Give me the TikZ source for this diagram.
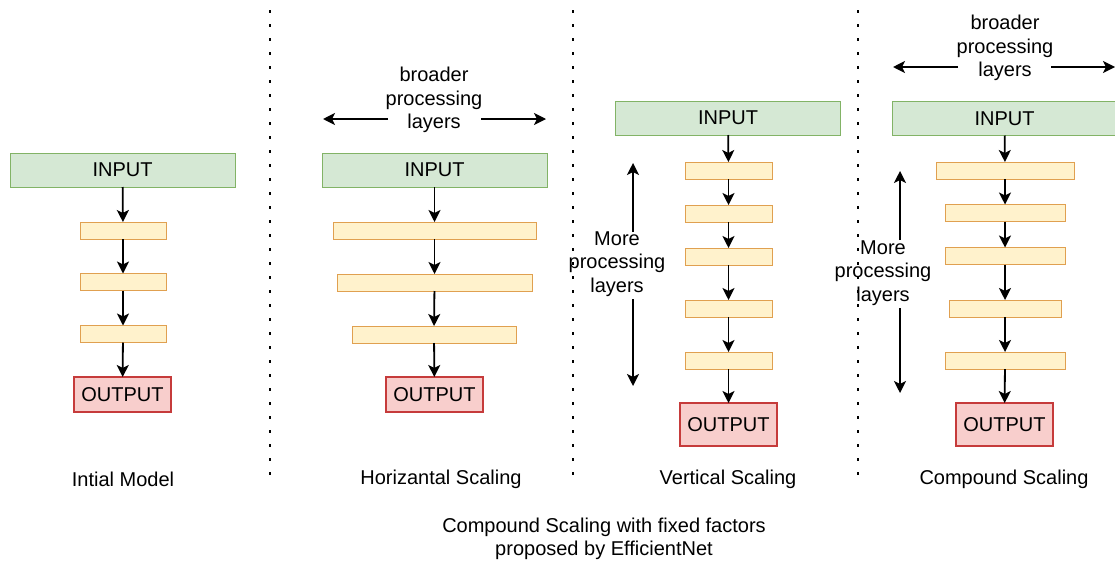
\documentclass[tikz,border=0pt]{standalone}
\usepackage{fontspec}
\setmainfont{Liberation Sans}
\usetikzlibrary{arrows.meta}
\definecolor{inFill}{HTML}{D5E8D4}
\definecolor{inStroke}{HTML}{82B366}
\definecolor{lyFill}{HTML}{FFF2CC}
\definecolor{lyStroke}{HTML}{E0A050}
\definecolor{outFill}{HTML}{F8CECC}
\definecolor{outStroke}{HTML}{C63B3B}
\tikzset{
  base/.style={font=\fontsize{20}{23.5}\selectfont, inner sep=0pt, outer sep=0pt, text=black},
  inbox/.style={base, draw=inStroke, fill=inFill, line width=1pt, minimum height=34pt, minimum width=225pt},
  layer/.style={base, draw=lyStroke, fill=lyFill, line width=1pt, minimum height=17pt},
  outbox/.style={base, draw=outStroke, fill=outFill, line width=1.2pt, minimum width=97pt},
  flow/.style={line width=1.8pt, -{Stealth[length=12pt,width=12pt,inset=3pt]}},
  lbl/.style={base, align=center},
  dotline/.style={line width=2.8pt, dash pattern=on 2.8pt off 11.2pt},
}
\begin{document}
\begin{tikzpicture}[x=1pt,y=-1pt]
\useasboundingbox (0,0) rectangle (1115,565);
\fill[white] (0,0) rectangle (1115,565);

% dotted separators
\draw[dotline] (270,10) -- (270,482);
\draw[dotline] (573,10) -- (573,482);
\draw[dotline] (858,10) -- (858,482);

% ---------- Initial model ----------
\node[inbox] (ain) at (122.5,170) {INPUT};
\node[layer, minimum width=86pt] (a1) at (123,230.5) {};
\node[layer, minimum width=86pt] (a2) at (123,282) {};
\node[layer, minimum width=86pt] (a3) at (123,334) {};
\node[outbox, minimum height=35pt] (aout) at (122.5,394.5) {OUTPUT};
\draw[flow] (ain) -- (a1);
\draw[flow] (a1) -- (a2);
\draw[flow] (a2) -- (a3);
\draw[flow] (a3) -- (aout);
\node[lbl] (alab) at (123,479) {Intial Model};

% ---------- Horizontal scaling ----------
\node[inbox] (bin) at (434.5,170) {INPUT};
\node[layer, minimum width=203pt] (b1) at (434.5,230.5) {};
\node[layer, minimum width=195pt] (b2) at (434.5,282.5) {};
\node[layer, minimum width=164pt] (b3) at (434,334.5) {};
\node[outbox, minimum height=35pt] (bout) at (434.5,394.5) {OUTPUT};
\draw[flow] (bin) -- (b1);
\draw[flow] (b1) -- (b2);
\draw[flow] (b2) -- (b3);
\draw[flow] (b3) -- (bout);
\node[lbl] (btxt) at (434,100) {broader\\processing\\layers};
\coordinate (bL0) at (388,119); \coordinate (bL1) at (323,119);
\coordinate (bR0) at (481,119); \coordinate (bR1) at (546,119);
\draw[flow] (bL0) -- (bL1);
\draw[flow] (bR0) -- (bR1);
\node[lbl] (blab) at (441,479) {Horizantal Scaling};

% ---------- Vertical scaling ----------
\node[inbox] (cin) at (728,118) {INPUT};
\node[layer, minimum width=87pt] (c1) at (728.5,170.5) {};
\node[layer, minimum width=87pt] (c2) at (728.5,213.5) {};
\node[layer, minimum width=87pt] (c3) at (728.5,256.5) {};
\node[layer, minimum width=87pt] (c4) at (728.5,308.5) {};
\node[layer, minimum width=87pt] (c5) at (728.5,360.5) {};
\node[outbox, minimum height=43pt] (cout) at (728.5,424.5) {OUTPUT};
\draw[flow] (cin) -- (c1);
\draw[flow] (c1) -- (c2);
\draw[flow] (c2) -- (c3);
\draw[flow] (c3) -- (c4);
\draw[flow] (c4) -- (c5);
\draw[flow] (c5) -- (cout);
\node[lbl] (ctxt) at (617,264) {More\\processing\\layers};
\coordinate (cU0) at (633,232); \coordinate (cU1) at (633,163);
\coordinate (cD0) at (633,299); \coordinate (cD1) at (633,386);
\draw[flow] (cU0) -- (cU1);
\draw[flow] (cD0) -- (cD1);
\node[lbl] (clab) at (728,479) {Vertical Scaling};

% ---------- Compound scaling ----------
\node[inbox] (din) at (1004.5,118.5) {INPUT};
\node[layer, minimum width=138pt] (d1) at (1005,170.5) {};
\node[layer, minimum width=120pt] (d2) at (1005,213) {};
\node[layer, minimum width=120pt] (d3) at (1005,256) {};
\node[layer, minimum width=112pt] (d4) at (1005,308.5) {};
\node[layer, minimum width=120pt] (d5) at (1005,360.5) {};
\node[outbox, minimum height=43pt] (dout) at (1004.5,424.5) {OUTPUT};
\draw[flow] (din) -- (d1);
\draw[flow] (d1) -- (d2);
\draw[flow] (d2) -- (d3);
\draw[flow] (d3) -- (d4);
\draw[flow] (d4) -- (d5);
\draw[flow] (d5) -- (dout);
\node[lbl] (dtxt) at (1005,48) {broader\\processing\\layers};
\coordinate (dL0) at (958,67); \coordinate (dL1) at (893,67);
\coordinate (dR0) at (1051,67); \coordinate (dR1) at (1115,67);
\draw[flow] (dL0) -- (dL1);
\draw[flow] (dR0) -- (dR1);
\node[lbl] (dmore) at (883,273) {More\\processing\\layers};
\coordinate (dU0) at (900,240); \coordinate (dU1) at (900,171);
\coordinate (dD0) at (900,308); \coordinate (dD1) at (900,393);
\draw[flow] (dU0) -- (dU1);
\draw[flow] (dD0) -- (dD1);
\node[lbl] (dlab) at (1004,479) {Compound Scaling};

% ---------- caption ----------
\node[lbl] (cap) at (604,539) {Compound Scaling with fixed factors\\proposed by EfficientNet};
\end{tikzpicture}
\end{document}
